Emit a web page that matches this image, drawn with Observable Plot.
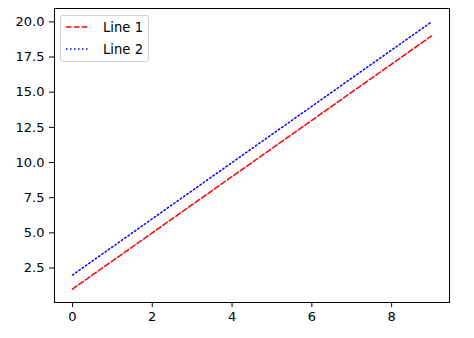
<!DOCTYPE html>
<html>
<head>
<meta charset="utf-8">
<script src="https://cdn.jsdelivr.net/npm/d3@7"></script>
<script src="https://cdn.jsdelivr.net/npm/@observablehq/plot@0.6"></script>
<style>
  html, body { margin: 0; padding: 0; background: #fff; }
  #wrap { position: relative; width: 474px; height: 338px; font-family: "DejaVu Sans", sans-serif; }
  #wrap svg text { font-family: "DejaVu Sans", sans-serif !important; font-size: 13px !important; fill: #000; }
  #legend { position: absolute; left: 60px; top: 15px; width: 89px; height: 47px; box-sizing: border-box;
            border: 1px solid #d0d0d0; border-radius: 3px; background: rgba(255,255,255,0.8);
            font-size: 13.2px; color: #000; }
  .item { position: absolute; left: 5px; height: 16px; display: flex; align-items: center; }
  .item svg { margin-right: 13px; }
</style>
</head>
<body>
<div id="wrap"></div>
<script>
const xs = [0, 1, 2, 3, 4, 5, 6, 7, 8, 9];
const line1 = [1, 3, 5, 7, 9, 11, 13, 15, 17, 19];
const line2 = [2, 4, 6, 8, 10, 12, 14, 16, 18, 20];
const seriesNames = ["Line 1", "Line 2"];
const seriesColors = ["#ff0000", "#0000ff"];
const seriesDash = ["5.5,2.4", "1.5,2.5"];
const xTicks = [0, 2, 4, 6, 8];
const yTicks = [2.5, 5, 7.5, 10, 12.5, 15, 17.5, 20];

const data1 = xs.map((x, i) => ({x, y: line1[i]}));
const data2 = xs.map((x, i) => ({x, y: line2[i]}));

const chart = Plot.plot({
  width: 474,
  height: 338,
  marginLeft: 54,
  marginRight: 25,
  marginTop: 8,
  marginBottom: 36,
  style: {fontFamily: "DejaVu Sans, sans-serif", fontSize: "13px", color: "#000", background: "#fff"},
  x: {domain: [-0.45, 9.45]},
  y: {domain: [0.05, 20.95]},
  marks: [
    Plot.line(data1, {x: "x", y: "y", stroke: seriesColors[0], strokeWidth: 1.5, strokeDasharray: seriesDash[0]}),
    Plot.line(data2, {x: "x", y: "y", stroke: seriesColors[1], strokeWidth: 1.5, strokeDasharray: seriesDash[1]}),
    Plot.axisX({ticks: xTicks, tickSize: 5, tickPadding: 4, label: null, fontSize: 13}),
    Plot.axisY({ticks: yTicks, tickSize: 5, tickPadding: 5, tickFormat: d3.format(".1f"), label: null, fontSize: 13}),
    Plot.frame({stroke: "#000", strokeWidth: 1})
  ]
});

const wrap = document.getElementById("wrap");
wrap.appendChild(chart);

const legend = document.createElement("div");
legend.id = "legend";
seriesNames.forEach((name, i) => {
  const item = document.createElement("div");
  item.className = "item";
  item.style.top = (3 + i * 22) + "px";
  item.innerHTML = `<svg width="24" height="4"><line x1="0" y1="2" x2="24" y2="2" stroke="${seriesColors[i]}" stroke-width="1.5" stroke-dasharray="${seriesDash[i]}"/></svg><span>${name}</span>`;
  legend.appendChild(item);
});
wrap.appendChild(legend);
</script>
</body>
</html>
